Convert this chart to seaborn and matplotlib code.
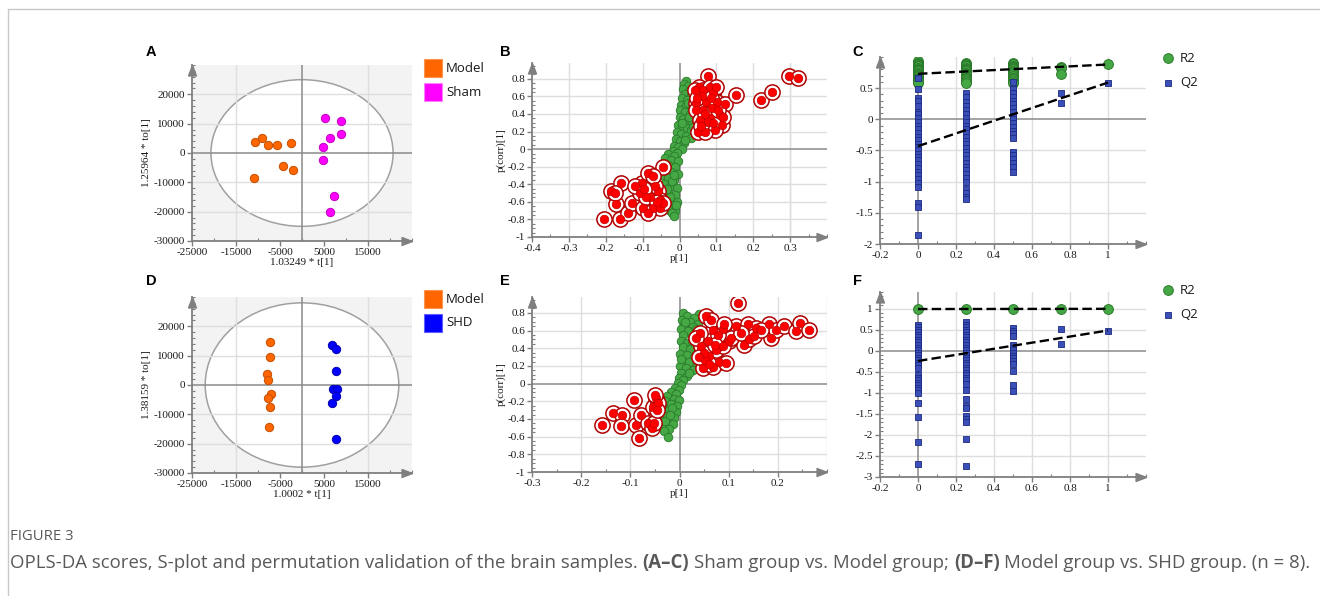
import pandas as pd
import matplotlib
matplotlib.use("Agg")
import matplotlib.pyplot as plt
import seaborn as sns
from matplotlib.patches import Ellipse, Rectangle
from matplotlib.lines import Line2D
from matplotlib.ticker import MultipleLocator

W, H = 1320, 596

# --- A: scores Model vs Sham ---
a_model_x = [-10660, -8990, -7630, -5740, -2420, -4310, -2120, -10960]
a_model_y = [3780, 5160, 2870, 2870, 3330, -4590, -5960, -8600]
a_sham_x = [5290, 8840, 6420, 8840, 4690, 4690, 7180, 6420]
a_sham_y = [11810, 10890, 5050, 6420, 2060, -2410, -14790, -20180]

# --- D: scores Model vs SHD ---
d_model_x = [-7260, -7260, -8010, -7630, -6950, -7710, -7330, -7560]
d_model_y = [14500, 9590, 3880, 1710, -3080, -4450, -7530, -14160]
d_shd_x = [6880, 7790, 7790, 7100, 8010, 7630, 6880, 7790]
d_shd_y = [13580, 12330, 4790, -1480, -1480, -3650, -6280, -18260]

score_xticks = [-25000, -15000, -5000, 5000, 15000]
score_yticks = [20000, 10000, 0, -10000, -20000, -30000]

# --- B: S-plot Model vs Sham ---
b_green_x = [0.017, 0.012, 0.022, 0.010, 0.025, 0.015, 0.030, 0.008, 0.020, 0.033,
             0.005, 0.018, 0.030, 0.002, 0.014, 0.028, 0.038, 0.000, 0.010, 0.022,
             0.035, 0.045, -0.003, 0.008, 0.020, 0.032, 0.042, -0.006, 0.005, 0.018,
             0.030, -0.010, 0.000, 0.012, -0.015, -0.004, 0.006, -0.018, -0.008, -0.030,
             -0.015, -0.040, -0.022, -0.005, -0.045, -0.030, -0.012, -0.040, -0.022, -0.005,
             -0.048, -0.032, -0.014, -0.042, -0.024, -0.006, -0.045, -0.030, -0.012, -0.040,
             -0.022, -0.008, -0.035, -0.018, -0.028, -0.012, -0.020, -0.015,
             0.024, 0.006, 0.036, 0.016, 0.026, -0.020, -0.035, -0.010, -0.026, -0.016]
b_green_y = [0.78, 0.74, 0.72, 0.68, 0.66, 0.63, 0.62, 0.58, 0.56, 0.55,
             0.50, 0.49, 0.47, 0.44, 0.42, 0.40, 0.38, 0.36, 0.34, 0.33,
             0.31, 0.29, 0.28, 0.26, 0.24, 0.22, 0.20, 0.20, 0.17, 0.15,
             0.13, 0.12, 0.09, 0.07, 0.04, 0.02, 0.00, -0.02, -0.04, -0.06,
             -0.08, -0.10, -0.12, -0.14, -0.16, -0.18, -0.20, -0.24, -0.26, -0.28,
             -0.30, -0.33, -0.35, -0.40, -0.42, -0.44, -0.48, -0.50, -0.52, -0.56,
             -0.58, -0.60, -0.63, -0.66, -0.69, -0.70, -0.73, -0.76,
             0.52, 0.30, 0.25, 0.10, 0.36, -0.36, -0.45, -0.64, -0.54, -0.30]
b_red_x = [0.076, 0.053, 0.064, 0.082, 0.091, 0.046, 0.073, 0.101, 0.123, 0.044,
           0.064, 0.082, 0.110, 0.051, 0.114, 0.096, 0.078, 0.055, 0.087, 0.060,
           0.042, 0.100, 0.069, 0.119, 0.048, 0.070, 0.090, 0.058, 0.105, 0.085,
           0.153, 0.220, 0.252, 0.297, 0.322,
           -0.206, -0.162, -0.171, -0.185, -0.158, -0.139, -0.130, -0.103, -0.085, -0.108,
           -0.081, -0.099, -0.072, -0.058, -0.053, -0.044, -0.067, -0.090, -0.053, -0.121,
           -0.072, -0.044, -0.085, -0.175, -0.095, -0.062]
b_red_y = [0.83, 0.71, 0.67, 0.71, 0.64, 0.52, 0.54, 0.54, 0.51, 0.45,
           0.45, 0.35, 0.39, 0.20, 0.28, 0.22, 0.31, 0.33, 0.47, 0.60,
           0.67, 0.71, 0.20, 0.37, 0.58, 0.40, 0.30, 0.26, 0.45, 0.58,
           0.62, 0.56, 0.65, 0.83, 0.81,
           -0.80, -0.80, -0.62, -0.48, -0.39, -0.73, -0.61, -0.39, -0.27, -0.50,
           -0.54, -0.67, -0.67, -0.48, -0.67, -0.20, -0.42, -0.54, -0.58, -0.42,
           -0.31, -0.61, -0.73, -0.50, -0.45, -0.60]
b_xticks = [-0.4, -0.3, -0.2, -0.1, 0, 0.1, 0.2, 0.3]

# --- E: S-plot Model vs SHD ---
e_green_x = [0.008, 0.040, 0.015, 0.030, 0.006, 0.022, 0.038, 0.010, 0.028, 0.004,
             0.018, 0.035, 0.008, 0.025, 0.040, 0.003, 0.016, 0.032, 0.008, 0.022,
             0.038, 0.002, 0.015, 0.030, 0.045, 0.006, 0.020, 0.036, 0.002, 0.014,
             0.028, 0.045, 0.004, 0.016, -0.002, 0.008, -0.004, 0.004, -0.010, -0.002,
             -0.018, -0.008, -0.025, -0.012, -0.002, -0.030, -0.018, -0.006, -0.035, -0.022,
             -0.008, -0.038, -0.026, -0.012, -0.040, -0.028, -0.014, -0.036, -0.022, -0.032,
             -0.024, 0.012, 0.026, 0.004, 0.034, 0.020, -0.016, -0.030, -0.020]
e_green_y = [0.80, 0.79, 0.76, 0.74, 0.72, 0.70, 0.68, 0.66, 0.64, 0.62,
             0.60, 0.58, 0.55, 0.53, 0.50, 0.48, 0.46, 0.44, 0.41, 0.39,
             0.37, 0.34, 0.32, 0.30, 0.28, 0.27, 0.24, 0.22, 0.20, 0.18,
             0.15, 0.14, 0.12, 0.09, 0.06, 0.04, 0.01, -0.02, -0.05, -0.07,
             -0.09, -0.12, -0.14, -0.17, -0.19, -0.20, -0.23, -0.25, -0.27, -0.30,
             -0.32, -0.34, -0.37, -0.39, -0.41, -0.44, -0.46, -0.49, -0.51, -0.54,
             -0.60, 0.70, 0.48, 0.28, 0.62, 0.12, -0.28, -0.42, -0.36]
e_red_x = [0.119, 0.115, 0.139, 0.156, 0.183, 0.187, 0.196, 0.213, 0.236, 0.245,
           0.264, 0.132, 0.142, 0.152, 0.166, 0.100, 0.088, 0.054, 0.068, 0.044,
           0.061, 0.081, 0.047, 0.075, 0.058, 0.041, 0.088, 0.105, 0.068, 0.095,
           0.051, 0.034, 0.064, 0.078, 0.125, 0.090, 0.050, 0.072, 0.060, 0.040,
           -0.157, -0.136, -0.117, -0.120, -0.093, -0.088, -0.078, -0.083, -0.064, -0.056,
           -0.047, -0.054, -0.044, -0.050, -0.051, -0.046]
e_red_y = [0.91, 0.65, 0.67, 0.63, 0.67, 0.52, 0.61, 0.65, 0.59, 0.69,
           0.61, 0.44, 0.50, 0.54, 0.61, 0.48, 0.62, 0.76, 0.61, 0.42,
           0.31, 0.25, 0.18, 0.38, 0.48, 0.57, 0.42, 0.52, 0.19, 0.23,
           0.27, 0.52, 0.72, 0.55, 0.57, 0.68, 0.35, 0.44, 0.22, 0.30,
           -0.47, -0.33, -0.36, -0.48, -0.18, -0.47, -0.35, -0.62, -0.45, -0.50,
           -0.16, -0.26, -0.22, -0.13, -0.45, -0.30]
e_xticks = [-0.3, -0.2, -0.1, 0, 0.1, 0.2]
splot_yticks = [0.8, 0.6, 0.4, 0.2, 0, -0.2, -0.4, -0.6, -0.8, -1]

# --- C / F: permutation tests ---
perm_levels = [0, 0.25, 0.5, 0.75, 1]
c_r2 = [[0.93, 0.91, 0.89, 0.87, 0.85, 0.83, 0.81, 0.79, 0.77, 0.75, 0.73, 0.71, 0.69, 0.67, 0.65, 0.63, 0.61, 0.59],
        [0.91, 0.89, 0.87, 0.85, 0.83, 0.81, 0.79, 0.77, 0.75, 0.73, 0.70, 0.67, 0.64, 0.61, 0.59],
        [0.90, 0.88, 0.86, 0.84, 0.82, 0.80, 0.78, 0.76, 0.73, 0.70, 0.67, 0.64, 0.61, 0.59],
        [0.84, 0.82, 0.73],
        [0.88]]
c_q2 = [[0.66, 0.49, 0.35, 0.30, 0.22, 0.12, 0.08, 0.02, -0.05, -0.10, -0.16, -0.22, -0.28, -0.33, -0.40,
         -0.45, -0.50, -0.55, -0.60, -0.66, -0.72, -0.78, -0.84, -0.90, -0.96, -1.02, -1.08, -1.35, -1.40, -1.85],
        [0.42, 0.36, 0.28, 0.22, 0.15, 0.08, 0.02, -0.04, -0.10, -0.16, -0.22, -0.28, -0.34, -0.40, -0.46,
         -0.52, -0.58, -0.64, -0.70, -0.76, -0.82, -0.88, -0.94, -1.00, -1.12, -1.18, -1.24, -1.28],
        [0.60, 0.48, 0.42, 0.36, 0.30, 0.24, 0.18, 0.12, 0.06, 0.00, -0.06, -0.12, -0.18, -0.24, -0.30,
         -0.52, -0.58, -0.64, -0.70, -0.76, -0.84],
        [0.42, 0.26],
        [0.59]]
c_r2_fit = [0.73, 0.88]
c_q2_fit = [-0.43, 0.59]
c_yticks = [0.5, 0, -0.5, -1, -1.5, -2]

f_r2 = [[1.0], [1.0], [1.0], [1.0], [1.0]]
f_q2 = [[0.62, 0.56, 0.50, 0.44, 0.38, 0.32, 0.26, 0.20, 0.14, 0.08, 0.02, -0.04, -0.10, -0.16, -0.22,
         -0.28, -0.34, -0.40, -0.58, -0.64, -0.70, -0.76, -0.82, -0.88, -0.94, -1.00, -1.24, -1.58, -2.16, -2.68],
        [0.68, 0.62, 0.56, 0.50, 0.44, 0.38, 0.32, 0.26, 0.20, 0.14, 0.08, 0.02, -0.04, -0.10, -0.16, -0.22,
         -0.28, -0.34, -0.40, -0.46, -0.52, -0.58, -0.64, -0.70, -0.78, -0.93, -1.14, -1.30, -1.37, -1.55,
         -1.62, -1.68, -2.10, -2.74],
        [0.55, 0.48, 0.42, 0.36, 0.14, 0.08, 0.02, -0.06, -0.12, -0.18, -0.24, -0.31, -0.49, -0.81, -0.96],
        [0.51, 0.17],
        [0.48]]
f_r2_fit = [0.995, 1.0]
f_q2_fit = [-0.24, 0.485]
f_yticks = [1, 0.5, 0, -0.5, -1, -1.5, -2, -2.5, -3]
perm_xticks = [-0.2, 0, 0.2, 0.4, 0.6, 0.8, 1]

# colores
AXIS = "#7f7f7f"
GRID = "#dedede"
ORANGE, ORANGE_E = "#ff6600", "#c44f00"
MAGENTA, MAGENTA_E = "#ff00ff", "#c000c0"
BLUE, BLUE_E = "#0000ff", "#0000b0"
GREEN, GREEN_E = "#45a845", "#2b7a2b"
RED, RED_E = "#ff0000", "#b00000"
Q2C, Q2C_E = "#3a4fb8", "#1d2a80"

sns.set_style("white")
plt.rcParams["font.family"] = ["Liberation Serif", "DejaVu Serif"]
plt.rcParams["axes.unicode_minus"] = False

UP = [(0, 0), (-0.38, -1), (0.38, -1), (0, 0)]
RIGHT = [(0, 0), (-1, -0.38), (-1, 0.38), (0, 0)]


def px_box(left, top, right, bottom):
    return [left / W, 1 - bottom / H, (right - left) / W, (bottom - top) / H]


def base_axes(ax, xlim, ylim, xticks, yticks, xminor, yminor, xgrid, ygrid):
    ax.set_xlim(xlim)
    ax.set_ylim(ylim)
    for s in ["top", "right"]:
        ax.spines[s].set_visible(False)
    for s in ["left", "bottom"]:
        ax.spines[s].set_color(AXIS)
        ax.spines[s].set_linewidth(1.3)
    ax.set_xticks(xticks, labels=[f"{v:g}" for v in xticks])
    ax.set_yticks(yticks, labels=[f"{v:g}" for v in yticks])
    ax.xaxis.set_minor_locator(MultipleLocator(xminor))
    ax.yaxis.set_minor_locator(MultipleLocator(yminor))
    ax.tick_params(which="major", bottom=True, left=True, direction="out", length=3.5,
                   width=1, color=AXIS, labelsize=8, labelcolor="#1a1a1a", pad=1.5)
    ax.tick_params(which="minor", bottom=True, left=True, direction="in", length=2.5,
                   width=0.8, color=AXIS)
    for v in xgrid:
        ax.axvline(v, color=GRID, lw=1, zorder=0.5)
    for v in ygrid:
        ax.axhline(v, color=GRID, lw=1, zorder=0.5)
    ax.axvline(0, color="#8a8a8a", lw=1.1, zorder=0.8)
    ax.axhline(0, color="#8a8a8a", lw=1.1, zorder=0.8)
    ax.plot([0], [1], marker=UP, ms=15, color=AXIS, transform=ax.transAxes, clip_on=False)
    ax.plot([1], [0], marker=RIGHT, ms=15, color=AXIS, transform=ax.transAxes, clip_on=False)


def score_panel(ax, g1x, g1y, g2x, g2y, c2, c2e, ell_a, ell_b, xlabel, ylabel):
    ax.set_facecolor("#f3f3f3")
    base_axes(ax, (-25000, 25000), (-30000, 30000), score_xticks, score_yticks, 5000, 2000,
              [-15000, 15000], [-20000, -10000, 10000, 20000])
    ax.add_patch(Ellipse((0, 0), 2 * ell_a, 2 * ell_b, facecolor="white", edgecolor="#a0a0a0",
                         lw=1.1, zorder=0.3))
    df1 = pd.DataFrame({"x": g1x, "y": g1y})
    df2 = pd.DataFrame({"x": g2x, "y": g2y})
    sns.scatterplot(data=df1, x="x", y="y", color=ORANGE, edgecolor=ORANGE_E, linewidth=0.7,
                    s=36, ax=ax, zorder=3)
    sns.scatterplot(data=df2, x="x", y="y", color=c2, edgecolor=c2e, linewidth=0.7,
                    s=36, ax=ax, zorder=3)
    ax.set_xlabel(xlabel, fontsize=8, labelpad=0.5, color="#1a1a1a")
    ax.set_ylabel(ylabel, fontsize=8, labelpad=2, color="#1a1a1a")


def splot_panel(ax, gx, gy, rx, ry, xlim, xticks):
    base_axes(ax, xlim, (-1, 0.98), xticks, splot_yticks, 0.05, 0.05,
              [v for v in xticks if v != 0 and v != xlim[0]] + [0.3],
              [v for v in splot_yticks if v not in (0, -1)])
    green = pd.DataFrame({"x": gx, "y": gy})
    red = pd.DataFrame({"x": rx, "y": ry})
    sns.scatterplot(data=green, x="x", y="y", color=GREEN, edgecolor=GREEN_E, linewidth=0.6,
                    s=38, ax=ax, zorder=3)
    sns.scatterplot(data=red, x="x", y="y", color="white", edgecolor=RED_E, linewidth=1.1,
                    s=120, ax=ax, zorder=4)
    sns.scatterplot(data=red, x="x", y="y", color=RED, edgecolor="#c00000", linewidth=0.5,
                    s=38, ax=ax, zorder=5)
    ax.set_xlabel("p[1]", fontsize=8, labelpad=0.5, color="#1a1a1a")
    ax.set_ylabel("p(corr)[1]", fontsize=8, labelpad=1, color="#1a1a1a")


def perm_panel(ax, r2, q2, r2_fit, q2_fit, ylim, yticks):
    base_axes(ax, (-0.2, 1.2), ylim, perm_xticks, yticks, 0.1, 0.1,
              [0.2, 0.4, 0.6, 0.8, 1.0], [v for v in yticks if v not in (0, yticks[-1])])
    r2_df = pd.DataFrame([(lv, v) for lv, vals in zip(perm_levels, r2) for v in vals], columns=["x", "y"])
    q2_df = pd.DataFrame([(lv, v) for lv, vals in zip(perm_levels, q2) for v in vals], columns=["x", "y"])
    sns.scatterplot(data=r2_df, x="x", y="y", color=GREEN, edgecolor=GREEN_E, linewidth=0.7,
                    s=50, ax=ax, zorder=3)
    sns.scatterplot(data=q2_df, x="x", y="y", marker="s", color=Q2C, edgecolor=Q2C_E, linewidth=0.6,
                    s=19, ax=ax, zorder=4)
    ax.plot([perm_levels[0], perm_levels[-1]], r2_fit, color="black", lw=1.7, ls=(0, (4, 1.8)), zorder=5)
    ax.plot([perm_levels[0], perm_levels[-1]], q2_fit, color="black", lw=1.7, ls=(0, (4, 1.8)), zorder=5)
    ax.set_xlabel("")
    ax.set_ylabel("")


fig = plt.figure(figsize=(W / 100, H / 100), dpi=100)

ax_a = fig.add_axes(px_box(192, 65, 412, 241))
ax_b = fig.add_axes(px_box(532, 63, 827, 237))
ax_c = fig.add_axes(px_box(880, 57, 1146, 244))
ax_d = fig.add_axes(px_box(192, 297, 412, 473))
ax_e = fig.add_axes(px_box(532, 297, 827, 472))
ax_f = fig.add_axes(px_box(880, 292, 1146, 477))

score_panel(ax_a, a_model_x, a_model_y, a_sham_x, a_sham_y, MAGENTA, MAGENTA_E, 20700, 25000,
            "1.03249 * t[1]", "1.25964 * to[1]")
score_panel(ax_d, d_model_x, d_model_y, d_shd_x, d_shd_y, BLUE, BLUE_E, 22000, 28000,
            "1.0002 * t[1]", "1.38159 * to[1]")
splot_panel(ax_b, b_green_x, b_green_y, b_red_x, b_red_y, (-0.4, 0.4), b_xticks)
splot_panel(ax_e, e_green_x, e_green_y, e_red_x, e_red_y, (-0.3, 0.3), e_xticks)
perm_panel(ax_c, c_r2, c_q2, c_r2_fit, c_q2_fit, (-2, 1.0), c_yticks)
perm_panel(ax_f, f_r2, f_q2, f_r2_fit, f_q2_fit, (-3, 1.4), f_yticks)

# letras de panel
for lab, x, y in [("A", 151, 52), ("B", 505, 52), ("C", 858, 52),
                  ("D", 151, 281), ("E", 505, 281), ("F", 858, 281)]:
    fig.text(x / W, 1 - y / H, lab, fontsize=10.5, fontweight="bold", family="Liberation Sans",
             ha="center", va="center", color="black")

# leyendas de los scores
for y0, labels, cols in [(59, ["Model", "Sham"], [(ORANGE, "#ff9450"), (MAGENTA, "#ff80ff")]),
                         (290, ["Model", "SHD"], [(ORANGE, "#ff9450"), (BLUE, "#6060ff")])]:
    for i, (lab, (fc, ec)) in enumerate(zip(labels, cols)):
        top = y0 + i * 23.5
        fig.add_artist(Rectangle((424 / W, 1 - (top + 18) / H), 18 / W, 18 / H, transform=fig.transFigure,
                                 facecolor=fc, edgecolor=ec, lw=0.8))
        fig.text(446 / W, 1 - (top + 9.5) / H, lab, fontsize=9.5, family="Open Sans",
                 va="center", ha="left", color="#1a1a1a")

# leyendas R2 / Q2
for y0 in [58, 290]:
    fig.add_artist(Line2D([1168 / W], [1 - y0 / H], marker="o", ms=7, mfc=GREEN, mec=GREEN_E,
                          mew=0.7, transform=fig.transFigure))
    fig.add_artist(Line2D([1168 / W], [1 - (y0 + 24.5) / H], marker="s", ms=4.2, mfc=Q2C, mec=Q2C_E,
                          mew=0.6, transform=fig.transFigure))
    fig.text(1180 / W, 1 - y0 / H, "R2", fontsize=9.5, family="Open Sans", va="center", color="#1a1a1a")
    fig.text(1180 / W, 1 - (y0 + 24.5) / H, "Q2", fontsize=9.5, family="Open Sans", va="center", color="#1a1a1a")

# marco
fig.add_artist(Line2D([8 / W, 1], [1 - 9 / H, 1 - 9 / H], color="#c8c8c8", lw=1, transform=fig.transFigure))
fig.add_artist(Line2D([8 / W, 8 / W], [0, 1 - 9 / H], color="#c8c8c8", lw=1, transform=fig.transFigure))

# pie de figura
CAP = "#595959"
CAP_SIZE = 13.4
fig.text(10 / W, 1 - 537 / H, "FIGURE 3", fontsize=10.7, family="Open Sans", color=CAP, va="center")
renderer = fig.canvas.get_renderer()


def text_width(s, weight):
    t = fig.text(0, 0, s, fontsize=CAP_SIZE, family="Open Sans", fontweight=weight)
    w = t.get_window_extent(renderer=renderer).width
    t.remove()
    return w


space = text_width("x x", "normal") - text_width("xx", "normal")
runs = [("OPLS-DA scores, S-plot and permutation validation of the brain samples.", "normal"),
        ("(A\u2013C)", "bold"),
        ("Sham group vs. Model group;", "normal"),
        ("(D\u2013F)", "bold"),
        ("Model group vs. SHD group. (n = 8).", "normal")]
x = 10.0
for txt, weight in runs:
    fig.text(x / W, 1 - 563 / H, txt, fontsize=CAP_SIZE, family="Open Sans", fontweight=weight,
             color=CAP, va="center", ha="left")
    x += text_width(txt, weight) + space

fig.savefig("out.png", dpi=100)
